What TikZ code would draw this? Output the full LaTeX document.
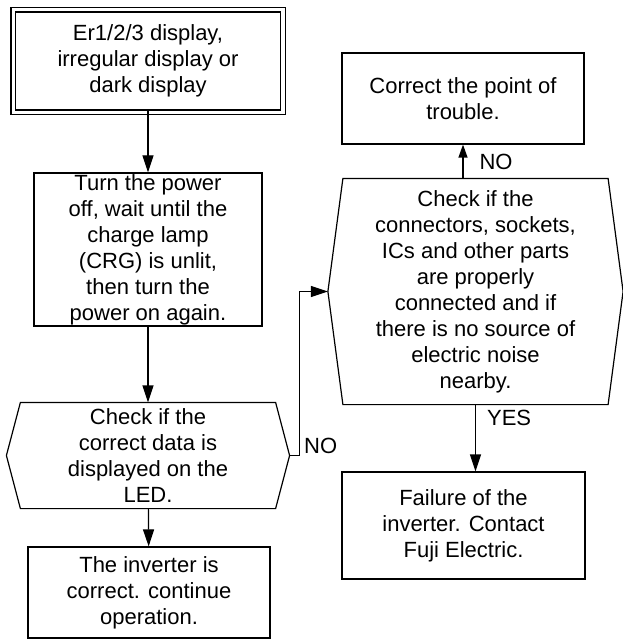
\documentclass[tikz,border=0pt]{standalone}
\usepackage{fontspec}
\setmainfont{Liberation Sans}
\usetikzlibrary{arrows.meta}
\tikzset{
  every picture/.style={line width=1.2pt},
  box/.style={draw, rectangle, align=center, inner sep=1pt},
  hexbox/.style={rectangle, align=center, inner sep=0pt},
  arrow/.style={-{Triangle[length=17pt, width=11pt]}},
  lbl/.style={inner sep=1pt},
}
% six-sided frame round a hexbox node: #1 node name, #2 depth of the points
\newcommand{\hexframe}[2]{%
  \draw (#1.west) -- ([xshift=#2]#1.north west) -- ([xshift=-#2]#1.north east)
    -- (#1.east) -- ([xshift=-#2]#1.south east) -- ([xshift=#2]#1.south west) -- cycle;}

\begin{document}
\begin{tikzpicture}[x=1pt, y=-1pt, every node/.append style={font=\fontsize{22}{26}\selectfont}]
  \useasboundingbox (0,0) rectangle (622,639);
  \node[box, minimum width=265pt, minimum height=98pt] (err) at (148,61) {Er1/2/3 display,\\irregular display or\\dark display};
  \draw ([shift={(-4,-4)}]err.north west) rectangle ([shift={(4,4)}]err.south east);
  \node[box, minimum width=228pt, minimum height=153pt] (off) at (148,249.5) {Turn the power\\off, wait until the\\charge lamp\\(CRG) is unlit,\\then turn the\\power on again.};
  \node[hexbox, minimum width=282pt, minimum height=105pt] (chk) at (148,455.5) {Check if the\\correct data is\\displayed on the\\LED.};
  \hexframe{chk}{14pt}
  \node[box, minimum width=242pt, minimum height=91pt] (ok) at (149,592.5) {The inverter is\\correct. continue\\operation.};
  \node[hexbox, minimum width=294pt, minimum height=225pt] (conn) at (475.5,291.5) {Check if the\\connectors, sockets,\\ICs and other parts\\are properly\\connected and if\\there is no source of\\electric noise\\nearby.};
  \hexframe{conn}{15pt}
  \node[box, minimum width=242pt, minimum height=91pt] (fix) at (463,98.5) {Correct the point of\\trouble.};
  \node[box, minimum width=243pt, minimum height=107pt] (fail) at (463.5,525.5) {Failure of the\\inverter. Contact\\Fuji Electric.};
  % connectors
  \draw[arrow] (err.south) -- (off.north);
  \draw[arrow] (off) -- (chk);
  \draw[arrow] (chk) -- (ok);
  \draw[arrow] (chk.east) -- ++(10,0) node[lbl, anchor=south west, xshift=3pt] {NO} |- (conn.west);
  \draw[-{Triangle[length=13pt, width=9pt]}] (fix.south |- conn.north) -- node[lbl, right=15pt] {NO} (fix.south);
  \draw[arrow] (conn.south) -- node[lbl, pos=0.2, right=10pt] {YES} (conn.south |- fail.north);
\end{tikzpicture}
\end{document}
